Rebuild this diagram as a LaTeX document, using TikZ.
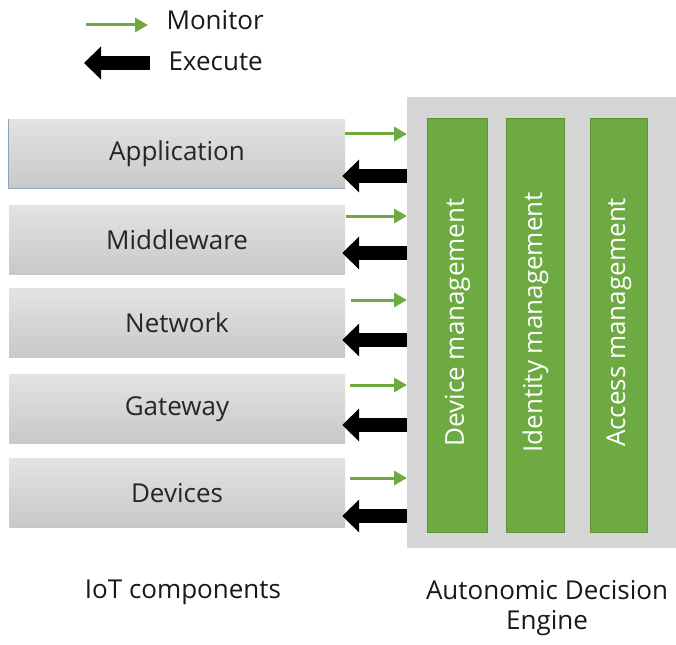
\documentclass[tikz,border=0pt]{standalone}
\usepackage{fontspec}
\setmainfont{Open Sans}
\usetikzlibrary{arrows.meta,calc}
\definecolor{boxtop}{HTML}{E3E3E3}
\definecolor{boxbot}{HTML}{C8C8C8}
\definecolor{panel}{HTML}{D5D5D5}
\definecolor{mgreen}{HTML}{6DAA42}
\definecolor{mgreendk}{HTML}{5A9234}
\definecolor{appedge}{HTML}{8FA2BC}
\tikzset{
  layer/.style={minimum width=336pt, minimum height=69pt, inner sep=0pt,
    top color=boxtop, bottom color=boxbot, font=\fontsize{26}{30}\selectfont, text=black!85},
  bar/.style={fill=mgreen, draw=mgreendk, line width=0.8pt, minimum height=414pt, inner sep=0pt},
  bartext/.style={rotate=90, text=white, font=\fontsize{26}{30}\selectfont},
  mon/.style={draw=mgreen, line width=3pt, -{Triangle[length=13pt,width=14pt]}},
  exe/.style={draw=black, line width=14pt, -{Triangle[length=17pt,width=32pt]}},
  label/.style={font=\fontsize{26}{30}\selectfont, text=black!90}
}
\begin{document}
\begin{tikzpicture}[x=1pt,y=-1pt]
\useasboundingbox (0,0) rectangle (676,644);

% legend
\coordinate (lm0) at (86,25);
\coordinate (lm1) at (148,25);
\coordinate (le0) at (150,63);
\coordinate (le1) at (84,63);
\draw[mon] (lm0) -- (lm1);
\draw[exe] (le0) -- (le1);
\node[label, anchor=west] (lmon) at (163,20) {Monitor};
\node[label, anchor=west] (lexe) at (165,61) {Execute};

% decision engine panel and its three bars
\node[fill=panel, minimum width=270pt, minimum height=451pt, inner sep=0pt, anchor=north west] (engine) at (407,97) {};
\node[bar, minimum width=60pt, anchor=north west] (devm) at (427,118) {};
\node[bar, minimum width=58pt, anchor=north west] (idm) at (506,118) {};
\node[bar, minimum width=57pt, anchor=north west] (accm) at (590,118) {};
\node[bartext] at ($(devm.center)+(0,-3)$) {Device management};
\node[bartext] at ($(idm.center)+(0,-3)$) {Identity management};
\node[bartext] at ($(accm.center)+(0,-3)$) {Access management};

% IoT layers
\node[layer] (app) at (177,154) {Application};
\node[layer] (mid) at (177,240) {Middleware};
\node[layer] (net) at (177,323) {Network};
\node[layer] (gw)  at (177,409) {Gateway};
\node[layer] (dev) at (177,493) {Devices};
\draw[appedge, line width=0.9pt] (app.north west) -- (app.south west) -- (app.south east);

% monitor (green) and execute (black) links
\draw[mon] ([yshift=20pt]app.east) -- ([yshift=20pt]app.east -| engine.west);
\draw[exe] ([yshift=-22pt]app.east -| engine.west) -- ([yshift=-22pt,xshift=-3pt]app.east);
\draw[mon] ([yshift=24pt,xshift=1pt]mid.east) -- ([yshift=24pt]mid.east -| engine.west);
\draw[exe] ([yshift=-13pt]mid.east -| engine.west) -- ([yshift=-13pt,xshift=-3pt]mid.east);
\draw[mon] ([yshift=23pt,xshift=6pt]net.east) -- ([yshift=23pt]net.east -| engine.west);
\draw[exe] ([yshift=-17pt]net.east -| engine.west) -- ([yshift=-17pt,xshift=-3pt]net.east);
\draw[mon] ([yshift=24pt,xshift=5pt]gw.east) -- ([yshift=24pt]gw.east -| engine.west);
\draw[exe] ([yshift=-16pt]gw.east -| engine.west) -- ([yshift=-16pt,xshift=-3pt]gw.east);
\draw[mon] ([yshift=15pt,xshift=5pt]dev.east) -- ([yshift=15pt]dev.east -| engine.west);
\draw[exe] ([yshift=-23pt]dev.east -| engine.west) -- ([yshift=-23pt,xshift=-3pt]dev.east);

% captions
\node[label] (capl) at (183,592) {IoT components};
\node[label, align=center] (capr) at (547,608) {Autonomic Decision\\Engine};
\end{tikzpicture}
\end{document}
